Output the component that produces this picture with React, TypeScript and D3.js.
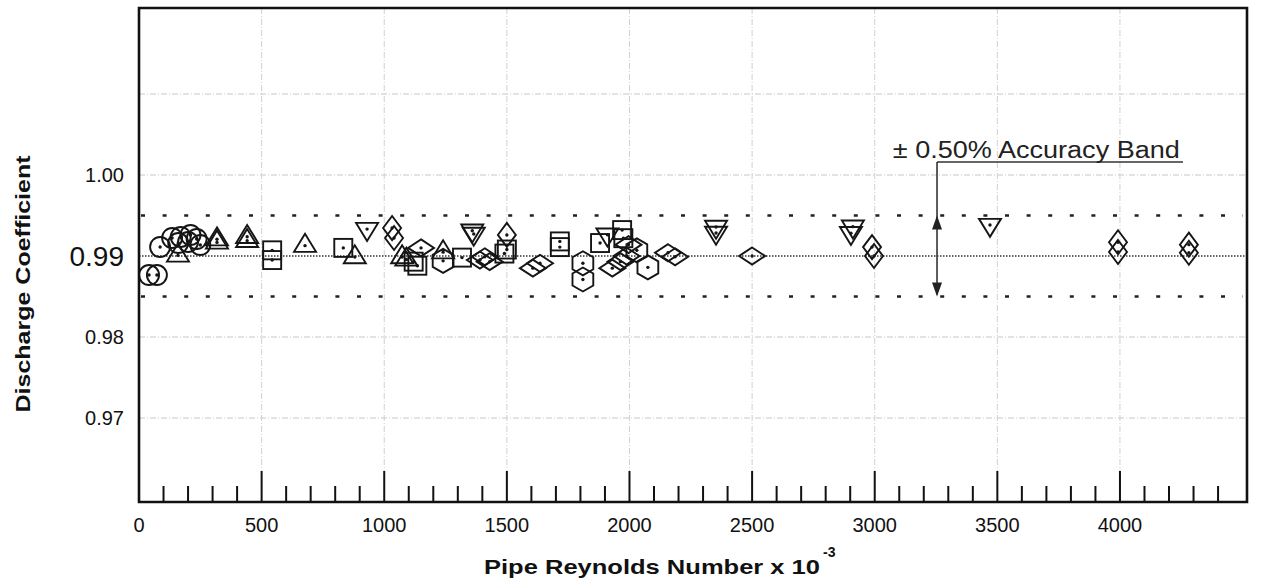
import React from 'react';
import * as d3 from 'd3';

// ---- data (Pipe Reynolds Number x 10^-3, Discharge Coefficient) ----
const xTickLabels = [0, 500, 1000, 1500, 2000, 2500, 3000, 3500, 4000];
const yTickValues = [1.0, 0.99, 0.98, 0.97];
const yGridValues = [1.01, 1.0, 0.98, 0.97];
const nominalCd = 0.99;
const bandUpper = 0.995;
const bandLower = 0.985;

const circlePts: [number, number][] = [
  [41, 0.98765], [73, 0.98765], [86, 0.99111], [135, 0.99222], [170, 0.99235],
  [210, 0.99259], [250, 0.99136], [160, 0.9916], [200, 0.99173], [235, 0.9921],
];
const triangleUpPts: [number, number][] = [
  [159, 0.9902], [318, 0.9922], [318, 0.9918], [441, 0.9925], [441, 0.992],
  [677, 0.9914], [880, 0.99], [1073, 0.99], [1090, 0.9897], [1240, 0.9906],
];
const squarePts: [number, number][] = [
  [543, 0.9907], [543, 0.9895], [833, 0.991], [1120, 0.9893], [1135, 0.9888],
  [1317, 0.9898], [1490, 0.9903], [1500, 0.9908], [1716, 0.9918], [1716, 0.9911],
  [1880, 0.9916], [1970, 0.9932], [1975, 0.9922],
];
const diamondTallPts: [number, number][] = [
  [1032, 0.99345], [1040, 0.99222], [1500, 0.9926], [2989, 0.9911], [2997, 0.99],
  [3992, 0.9917], [3992, 0.9905], [4281, 0.9914], [4281, 0.9904],
];
const diamondWidePts: [number, number][] = [
  [1150, 0.991], [1390, 0.9895], [1410, 0.9899], [1430, 0.9893], [1606, 0.9885],
  [1635, 0.9891], [1930, 0.9885], [1963, 0.9893], [1988, 0.99], [1996, 0.9914],
  [2157, 0.9904], [2186, 0.9899], [2500, 0.99],
];
const triangleDownPts: [number, number][] = [
  [930, 0.9932], [1359, 0.993], [1365, 0.9926], [1910, 0.9925], [2353, 0.99346],
  [2353, 0.99272], [2911, 0.9935], [2903, 0.9927], [3470, 0.9937],
];
const hexagonPts: [number, number][] = [
  [1240, 0.9894], [1810, 0.9891], [1810, 0.9871], [2030, 0.9907], [2075, 0.9886],
];

const annotationText = '\u00B1 0.50% Accuracy Band';
const annotationRe = 3254;
const annotationTopCd = 1.0016;
const annotationEndRe = 4257;
const annotationTextRe = 3074;

const FONT = '"Liberation Sans", Arial, Helvetica, sans-serif';

function polyPath(pts: [number, number][]) {
  return 'M' + pts.map((p) => p[0].toFixed(2) + ',' + p[1].toFixed(2)).join('L') + 'Z';
}

export default function App() {
  const left = 139, right = 1247, top = 8, bottom = 502;
  const x = d3.scaleLinear().domain([0, 4518]).range([left, right]);
  const y = d3.scaleLinear().domain([0.97, 1.0]).range([418, 175]);

  const minorTicks = d3.range(100, 4401, 100).filter((v) => v % 500 !== 0);
  const majorTicks = d3.range(500, 4001, 500);

  const stroke = '#151515';
  const sw = 1.9;

  const dot = (cx: number, cy: number, k: string) => (
    <circle key={k} cx={cx} cy={cy} r={1.7} fill={stroke} />
  );

  const markers: React.ReactNode[] = [];
  circlePts.forEach(([re, cd], i) => {
    const cx = x(re), cy = y(cd);
    markers.push(<circle key={'c' + i} cx={cx} cy={cy} r={10} fill="none" stroke={stroke} strokeWidth={sw} />);
    markers.push(dot(cx, cy, 'cd' + i));
  });
  triangleUpPts.forEach(([re, cd], i) => {
    const cx = x(re), cy = y(cd), w = 22, h = 18;
    markers.push(<path key={'tu' + i} d={polyPath([[cx, cy - h * 0.6], [cx - w / 2, cy + h * 0.4], [cx + w / 2, cy + h * 0.4]])} fill="none" stroke={stroke} strokeWidth={sw} />);
    markers.push(dot(cx, cy + 1, 'tud' + i));
  });
  squarePts.forEach(([re, cd], i) => {
    const cx = x(re), cy = y(cd), s = 18;
    markers.push(<rect key={'s' + i} x={cx - s / 2} y={cy - s / 2} width={s} height={s} fill="none" stroke={stroke} strokeWidth={sw} />);
    markers.push(dot(cx, cy, 'sd' + i));
  });
  diamondTallPts.forEach(([re, cd], i) => {
    const cx = x(re), cy = y(cd), w = 18, h = 24;
    markers.push(<path key={'dt' + i} d={polyPath([[cx, cy - h / 2], [cx + w / 2, cy], [cx, cy + h / 2], [cx - w / 2, cy]])} fill="none" stroke={stroke} strokeWidth={sw} />);
    markers.push(dot(cx, cy, 'dtd' + i));
  });
  diamondWidePts.forEach(([re, cd], i) => {
    const cx = x(re), cy = y(cd), w = 26, h = 17;
    markers.push(<path key={'dw' + i} d={polyPath([[cx, cy - h / 2], [cx + w / 2, cy], [cx, cy + h / 2], [cx - w / 2, cy]])} fill="none" stroke={stroke} strokeWidth={sw} />);
    markers.push(dot(cx, cy, 'dwd' + i));
  });
  triangleDownPts.forEach(([re, cd], i) => {
    const cx = x(re), cy = y(cd), w = 22, h = 18;
    markers.push(<path key={'td' + i} d={polyPath([[cx, cy + h * 0.6], [cx - w / 2, cy - h * 0.4], [cx + w / 2, cy - h * 0.4]])} fill="none" stroke={stroke} strokeWidth={sw} />);
    markers.push(dot(cx, cy - 1, 'tdd' + i));
  });
  hexagonPts.forEach(([re, cd], i) => {
    const cx = x(re), cy = y(cd), r = 12;
    const pts: [number, number][] = d3.range(6).map((k) => {
      const a = -Math.PI / 2 + (k * Math.PI) / 3;
      return [cx + r * Math.cos(a), cy + r * Math.sin(a)];
    });
    markers.push(<path key={'h' + i} d={polyPath(pts)} fill="none" stroke={stroke} strokeWidth={sw} />);
    markers.push(dot(cx, cy, 'hd' + i));
  });

  const ax = x(annotationRe);
  const aTop = y(annotationTopCd);
  const upTip = y(bandUpper);
  const downTip = y(bandLower);

  return (
    <svg width={1269} height={582} style={{ position: 'absolute', left: 0, top: 0, background: '#fff' }} fontFamily={FONT}>
      <rect x={0} y={0} width={1269} height={582} fill="#fff" />
      {/* grid */}
      {yGridValues.map((v) => (
        <line key={'gy' + v} x1={left} x2={right} y1={y(v)} y2={y(v)} stroke="#c8c8c8" strokeWidth={1} strokeDasharray="6,2,1,2" />
      ))}
      {majorTicks.map((v) => (
        <line key={'gx' + v} x1={x(v)} x2={x(v)} y1={top} y2={bottom} stroke="#d0d0d0" strokeWidth={1} strokeDasharray="6,2,1,2" />
      ))}
      {/* accuracy band */}
      <line x1={left + 2} x2={right - 4} y1={y(bandUpper)} y2={y(bandUpper)} stroke="#222" strokeWidth={2.6} strokeDasharray="4,17.6" />
      <line x1={left + 2} x2={right - 4} y1={y(bandLower)} y2={y(bandLower)} stroke="#222" strokeWidth={2.6} strokeDasharray="4,17.6" />
      <line x1={left} x2={right} y1={y(nominalCd)} y2={y(nominalCd)} stroke="#333" strokeWidth={1.4} strokeDasharray="1.5,1.5" />
      {/* markers */}
      {markers}
      {/* annotation */}
      <line x1={ax} x2={x(annotationEndRe)} y1={aTop} y2={aTop} stroke="#333" strokeWidth={1.6} />
      <line x1={ax} x2={ax} y1={aTop} y2={downTip - 2} stroke="#333" strokeWidth={1.6} />
      <path d={polyPath([[ax, upTip], [ax - 5, upTip + 14], [ax + 5, upTip + 14]])} fill="#222" />
      <path d={polyPath([[ax, downTip], [ax - 5, downTip - 14], [ax + 5, downTip - 14]])} fill="#222" />
      <text x={x(annotationTextRe)} y={158} fontSize={23} fill="#222" textLength={287} lengthAdjust="spacingAndGlyphs">{annotationText}</text>
      {/* frame */}
      <path d={`M${left},${bottom}L${left},${top}L${right},${top}L${right},${bottom}Z`} fill="none" stroke="#111" strokeWidth={2.6} />
      {/* x ticks */}
      {minorTicks.map((v) => (
        <line key={'mt' + v} x1={x(v)} x2={x(v)} y1={bottom} y2={bottom - 16} stroke="#111" strokeWidth={2} />
      ))}
      {majorTicks.map((v) => (
        <line key={'Mt' + v} x1={x(v)} x2={x(v)} y1={bottom} y2={bottom - 31} stroke="#111" strokeWidth={2} />
      ))}
      {xTickLabels.map((v) => (
        <text key={'xl' + v} x={x(v)} y={532} fontSize={20} textAnchor="middle" fill="#111">{v}</text>
      ))}
      {yTickValues.map((v) => (
        <text key={'yl' + v} x={124} y={y(v)} dy="0.36em" fontSize={v === nominalCd ? 28 : 20} textAnchor="end" fill="#111">{v.toFixed(2)}</text>
      ))}
      {/* axis titles */}
      <text x={484} y={574} fontSize={21} fontWeight="bold" fill="#111" textLength={336} lengthAdjust="spacingAndGlyphs">Pipe Reynolds Number x 10</text>
      <text x={823} y={557} fontSize={14} fontWeight="bold" fill="#111">-3</text>
      <text transform="translate(30,284) rotate(-90)" textAnchor="middle" fontSize={20} fontWeight="bold" fill="#111" textLength={257} lengthAdjust="spacingAndGlyphs">Discharge Coefficient</text>
    </svg>
  );
}
